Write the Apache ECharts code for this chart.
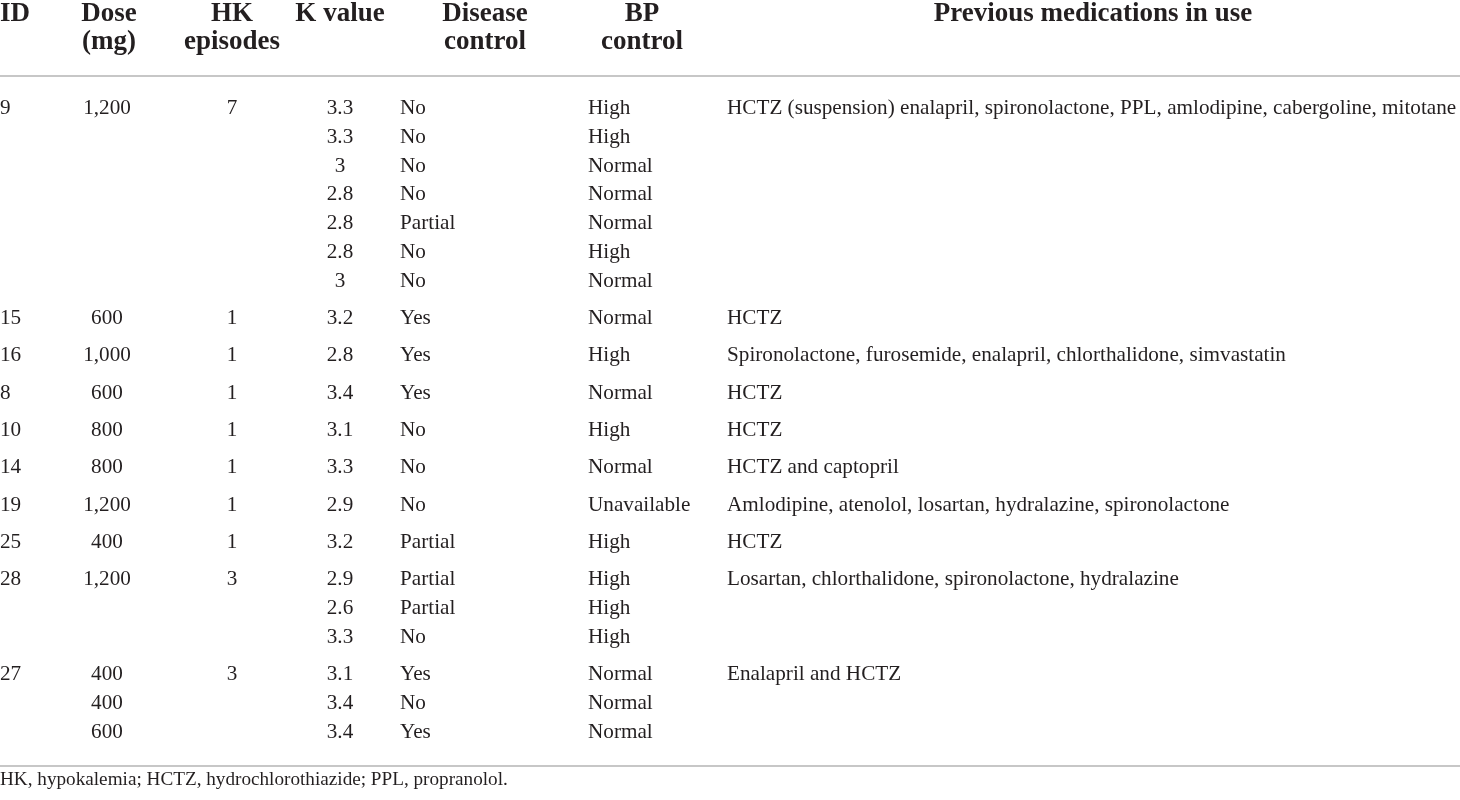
<!DOCTYPE html>
<html>
<head>
<meta charset="utf-8">
<script src="https://cdn.jsdelivr.net/npm/echarts@6/dist/echarts.min.js"></script>
<style>
html,body{margin:0;padding:0;background:#fff;}
#chart{width:1460px;height:800px;}
</style>
</head>
<body>
<div id="chart"></div>
<script>
// ---- table data ----
const headers = [['ID'], ['Dose', '(mg)'], ['HK', 'episodes'], ['K value'], ['Disease', 'control'], ['BP', 'control'], ['Previous medications in use']];
const ids = ['9', '15', '16', '8', '10', '14', '19', '25', '28', '27'];
const doses = [['1,200'], ['600'], ['1,000'], ['600'], ['800'], ['800'], ['1,200'], ['400'], ['1,200'], ['400', '400', '600']];
const hkEpisodes = ['7', '1', '1', '1', '1', '1', '1', '1', '3', '3'];
const kValues = [[3.3, 3.3, 3, 2.8, 2.8, 2.8, 3], [3.2], [2.8], [3.4], [3.1], [3.3], [2.9], [3.2], [2.9, 2.6, 3.3], [3.1, 3.4, 3.4]];
const diseaseControl = [['No', 'No', 'No', 'No', 'Partial', 'No', 'No'], ['Yes'], ['Yes'], ['Yes'], ['No'], ['No'], ['No'], ['Partial'], ['Partial', 'Partial', 'No'], ['Yes', 'No', 'Yes']];
const bpControl = [['High', 'High', 'Normal', 'Normal', 'Normal', 'High', 'Normal'], ['Normal'], ['High'], ['Normal'], ['High'], ['Normal'], ['Unavailable'], ['High'], ['High', 'High', 'High'], ['Normal', 'Normal', 'Normal']];
const medications = [
  'HCTZ (suspension) enalapril, spironolactone, PPL, amlodipine, cabergoline, mitotane',
  'HCTZ',
  'Spironolactone, furosemide, enalapril, chlorthalidone, simvastatin',
  'HCTZ',
  'HCTZ',
  'HCTZ and captopril',
  'Amlodipine, atenolol, losartan, hydralazine, spironolactone',
  'HCTZ',
  'Losartan, chlorthalidone, spironolactone, hydralazine',
  'Enalapril and HCTZ'
];
const footnote = 'HK, hypokalemia; HCTZ, hydrochlorothiazide; PPL, propranolol.';

// ---- layout (style, not data) ----
const W = 1460, H = 800;
const FONT = '"Liberation Serif", "Times New Roman", serif';
const TEXT_COLOR = '#231f20';
const BODY_SIZE = 21.2, HEAD_SIZE = 27, FOOT_SIZE = 19.2;
const colAnchor = [0, 107, 232, 340, 400, 588, 727];
const colAlign = ['left', 'center', 'center', 'center', 'left', 'left', 'left'];
const headAnchor = [0, 109, 232, 340, 485, 642, 1093];
const headAlign = ['left', 'center', 'center', 'center', 'center', 'center', 'center'];
const HEAD_LINE1 = 14, HEAD_LINE_STEP = 28.5;
const FIRST_ROW = 108.5, ROW_STEP = 28.8, GROUP_EXTRA = 8.5;
const TOP_RULE = 76, BOTTOM_RULE = 765.5, FOOT_Y = 780;

// row y positions derived from group structure
const groupSizes = kValues.map(g => g.length);
function rowY(g, r) {
  let before = 0;
  for (let i = 0; i < g; i++) before += groupSizes[i];
  return FIRST_ROW + (before + r) * ROW_STEP + g * GROUP_EXTRA;
}

function perGroup(arr) { return arr.map((v, g) => ({ y: rowY(g, 0), text: String(v) })); }
function perRow(arr) {
  const out = [];
  arr.forEach((grp, g) => grp.forEach((v, r) => out.push({ y: rowY(g, r), text: String(v) })));
  return out;
}
const columnCells = [perGroup(ids), perRow(doses), perGroup(hkEpisodes), perRow(kValues), perRow(diseaseControl), perRow(bpControl), perGroup(medications)];

function textSeries(items, x, align, size, weight, extra) {
  return Object.assign({
    type: 'custom',
    silent: true,
    coordinateSystem: 'cartesian2d',
    data: items.map(it => [x, it.y]),
    renderItem: function (params, api) {
      const pt = api.coord([api.value(0), api.value(1)]);
      return {
        type: 'text',
        x: pt[0],
        y: pt[1],
        style: {
          text: items[params.dataIndex].text,
          align: align,
          verticalAlign: 'middle',
          fontFamily: FONT,
          fontSize: size,
          fontWeight: weight,
          fill: TEXT_COLOR
        }
      };
    }
  }, extra || {});
}

const series = [];
headers.forEach((lines, c) => {
  const items = lines.map((t, i) => ({ y: HEAD_LINE1 + i * HEAD_LINE_STEP, text: t }));
  series.push(textSeries(items, headAnchor[c], headAlign[c], HEAD_SIZE, 'bold'));
});
columnCells.forEach((items, c) => {
  series.push(textSeries(items, colAnchor[c], colAlign[c], BODY_SIZE, 'normal'));
});
series.push(textSeries([{ y: FOOT_Y, text: footnote }], 0, 'left', FOOT_SIZE, 'normal', {
  markLine: {
    silent: true,
    symbol: 'none',
    label: { show: false },
    lineStyle: { color: '#b4b4b4', width: 1.5, type: 'solid' },
    data: [{ yAxis: TOP_RULE }, { yAxis: BOTTOM_RULE }]
  }
}));

const chart = echarts.init(document.getElementById('chart'));
chart.setOption({
  animation: false,
  backgroundColor: '#ffffff',
  grid: { left: 0, right: 0, top: 0, bottom: 0, containLabel: false },
  xAxis: { type: 'value', min: 0, max: W, show: false },
  yAxis: { type: 'value', min: 0, max: H, inverse: true, show: false },
  series: series
});
</script>
</body>
</html>
